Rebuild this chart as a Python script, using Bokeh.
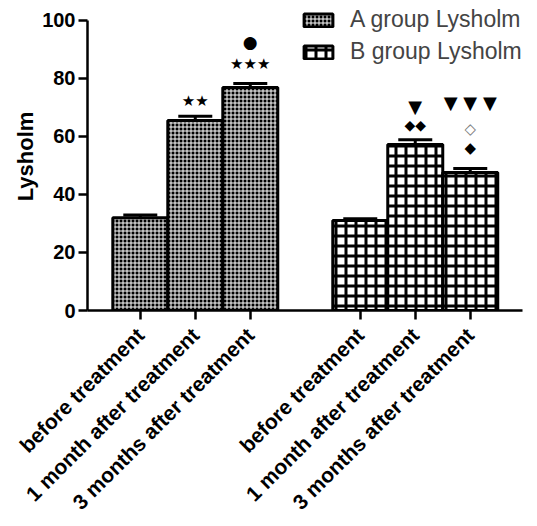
import math
from bokeh.plotting import figure
from bokeh.models import (Range1d, FixedTicker, ColumnDataSource, Whisker, TeeHead,
                          Legend, LegendItem)
from bokeh.core.properties import value
from bokeh.embed import file_html
from bokeh.resources import INLINE

# ---- data ----
tick_labels = ["before treatment", "1 month after treatment", "3 months after treatment"]
a_pos = [0, 1, 2]
b_pos = [4, 5, 6]
a_mean = [32.0, 65.5, 76.9]
a_err = [0.9, 1.5, 1.4]
b_mean = [31.0, 57.2, 47.6]
b_err = [0.6, 1.7, 1.4]
series_names = ["A group Lysholm", "B group Lysholm"]
y_ticks = [0, 20, 40, 60, 80, 100]

annot_x = [1, 2, 2, 5, 5, 6, 6, 6]
annot_y = [72.4, 85.1, 92.5, 70.3, 64.0, 71.8, 62.5, 56.0]
annot_text = ["★★", "★★★", "●", "▼", "◆◆", "▼ ▼ ▼", "◇", "◆"]
annot_color = ["black", "black", "black", "black", "black", "black", "#777777", "black"]
annot_size = ["15px", "15px", "17px", "18px", "14px", "18px", "15px", "15px"]

FONT = "Liberation Sans"

p = figure(frame_width=435, frame_height=308,
           x_range=Range1d(-0.96, 6.95), y_range=Range1d(0, 106.2),
           output_backend="svg", toolbar_location=None,
           min_border_left=87, min_border_top=2, min_border_right=10, min_border_bottom=212)
p.outline_line_color = None
p.xgrid.visible = False
p.ygrid.visible = False
p.background_fill_color = "white"

src_a = ColumnDataSource(dict(x=a_pos, top=a_mean, up=[m + e for m, e in zip(a_mean, a_err)]))
src_b = ColumnDataSource(dict(x=b_pos, top=b_mean, up=[m + e for m, e in zip(b_mean, b_err)]))

ra = p.vbar(x="x", top="top", width=1.0, source=src_a, fill_color="black",
            line_color="black", line_width=3,
            hatch_pattern="cross", hatch_color="white", hatch_scale=4, hatch_weight=1)
rb = p.vbar(x="x", top="top", width=1.0, source=src_b, fill_color="white",
            line_color="black", line_width=3,
            hatch_pattern="cross", hatch_color="black", hatch_scale=10, hatch_weight=3)

for src in (src_a, src_b):
    w = Whisker(base="x", lower="top", upper="up", source=src, line_width=3,
                line_color="black", lower_head=None,
                upper_head=TeeHead(size=34, line_width=3, line_color="black"),
                level="annotation")
    p.add_layout(w)

p.text(x=annot_x, y=annot_y, text=annot_text, text_color=annot_color,
       text_font=value("DejaVu Sans"), text_font_size=annot_size,
       text_align="center", text_baseline="middle")

# axes
p.xaxis.ticker = FixedTicker(ticks=a_pos + b_pos)
p.xaxis.major_label_overrides = {t: lab for t, lab in zip(a_pos + b_pos, tick_labels + tick_labels)}
p.xaxis.major_label_orientation = math.pi / 4
p.yaxis.ticker = FixedTicker(ticks=y_ticks)
p.yaxis.bounds = (y_ticks[0], y_ticks[-1])
for ax in (p.xaxis, p.yaxis):
    ax.axis_line_width = 2.5
    ax.major_tick_line_width = 2.5
    ax.major_tick_in = 0
    ax.major_tick_out = 9
    ax.minor_tick_line_color = None
    ax.major_label_text_font = FONT
    ax.major_label_text_font_style = "bold"
    ax.major_label_text_color = "black"
    ax.axis_line_color = "black"
    ax.major_tick_line_color = "black"
p.yaxis.major_label_text_font_size = "20px"
p.xaxis.major_label_text_font_size = "21px"
p.yaxis.axis_label = "Lysholm"
p.yaxis.axis_label_text_font = FONT
p.yaxis.axis_label_text_font_style = "bold"
p.yaxis.axis_label_text_font_size = "22px"
p.yaxis.axis_label_text_color = "black"
p.yaxis.axis_label_standoff = 1
p.yaxis.major_label_standoff = 3
p.xaxis.major_label_standoff = 12

legend = Legend(items=[LegendItem(label=series_names[0], renderers=[ra]),
                       LegendItem(label=series_names[1], renderers=[rb])],
                location=(213, 245), padding=0, margin=0, spacing=5,
                glyph_width=36, glyph_height=16, label_standoff=14,
                label_text_font=FONT, label_text_font_size="23px",
                border_line_color=None, background_fill_alpha=0)
p.add_layout(legend)

open("out.html", "w").write(file_html(p, INLINE))
